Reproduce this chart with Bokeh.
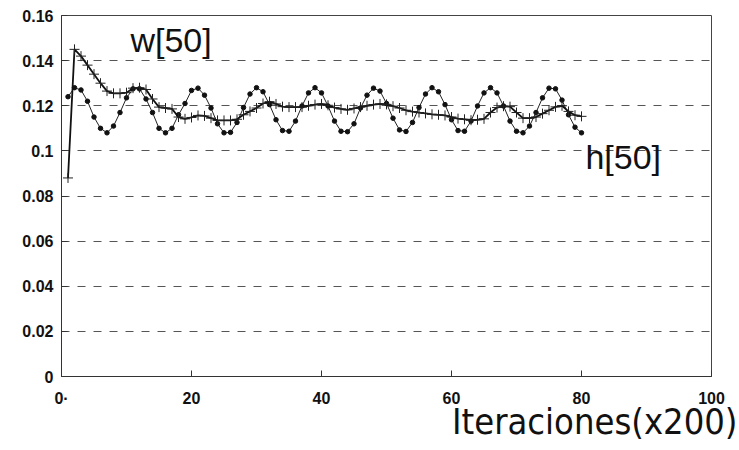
from bokeh.plotting import figure
from bokeh.models import FixedTicker, Label, Range1d, Title
from bokeh.embed import file_html
from bokeh.resources import INLINE

# --- data ---
iter_x = list(range(1, 81))

h50 = [0.124, 0.128, 0.127, 0.122, 0.115, 0.110, 0.108, 0.111, 0.117, 0.1235,
       0.1275, 0.1275, 0.123, 0.117, 0.110, 0.108, 0.110, 0.116, 0.121, 0.1268,
       0.1278, 0.1247, 0.119, 0.112, 0.108, 0.1082, 0.1126, 0.1192, 0.1252, 0.128,
       0.1262, 0.1205, 0.1138, 0.109, 0.1087, 0.1132, 0.1199, 0.1257, 0.128, 0.1257,
       0.1199, 0.1132, 0.1087, 0.1085, 0.112, 0.119, 0.1247, 0.1278, 0.1265, 0.121,
       0.1145, 0.1093, 0.1086, 0.1126, 0.1192, 0.1252, 0.128, 0.1262, 0.1205, 0.1138,
       0.109, 0.1087, 0.1132, 0.1199, 0.1257, 0.128, 0.1257, 0.1199, 0.1132, 0.1087,
       0.108, 0.111, 0.117, 0.1235, 0.1278, 0.1275, 0.1225, 0.116, 0.1105, 0.108]

w50 = [0.088, 0.145, 0.142, 0.138, 0.134, 0.130, 0.1265, 0.1255, 0.1255, 0.1258,
       0.1278, 0.128, 0.1272, 0.123, 0.1194, 0.119, 0.1186, 0.115, 0.1142, 0.1148,
       0.1157, 0.1155, 0.1145, 0.1135, 0.1135, 0.1135, 0.114, 0.116, 0.1175, 0.119,
       0.121, 0.1218, 0.1208, 0.1196, 0.1194, 0.1194, 0.1194, 0.120, 0.1205, 0.1208,
       0.1202, 0.1192, 0.1186, 0.1182, 0.1188, 0.1194, 0.120, 0.1205, 0.1208, 0.1206,
       0.1198, 0.119, 0.118, 0.1174, 0.117, 0.1166, 0.1162, 0.116, 0.1157, 0.115,
       0.1143, 0.114, 0.1136, 0.1138, 0.1142, 0.117, 0.1192, 0.1198, 0.1196, 0.117,
       0.1145, 0.1145, 0.115, 0.1165, 0.118, 0.1195, 0.120, 0.1175, 0.1158, 0.1153]

x_ticks = [0, 20, 40, 60, 80, 100]
x_tick_labels = ["0·", "20", "40", "60", "80", "100"]
y_ticks = [0, 0.02, 0.04, 0.06, 0.08, 0.1, 0.12, 0.14, 0.16]
y_tick_labels = ["0", "0.02", "0.04", "0.06", "0.08", "0.1", "0.12", "0.14", "0.16"]
grid_levels = [0.02, 0.04, 0.06, 0.08, 0.1, 0.12, 0.14]

x_title = "Iteraciones(x200)"
w_name = "w[50]"
h_name = "h[50]"

FONT = "'Liberation Sans', Arial, Helvetica, sans-serif"
NARROW = "'Liberation Sans Narrow', 'DejaVu Sans Condensed', Roboto, sans-serif"

p = figure(width=739, height=450, output_backend="svg", toolbar_location=None,
           x_range=Range1d(0, 100), y_range=Range1d(0, 0.16),
           min_border_left=61, min_border_right=28, min_border_top=15, min_border_bottom=74)
p.background_fill_color = "white"
p.border_fill_color = "white"
p.outline_line_color = "#444444"
p.outline_line_width = 1

p.xgrid.visible = False
p.ygrid.ticker = FixedTicker(ticks=grid_levels)
p.ygrid.grid_line_color = "#555555"
p.ygrid.grid_line_dash = "8 8"
p.ygrid.grid_line_width = 1

for ax in (p.xaxis[0], p.yaxis[0]):
    ax.axis_line_color = "#333333"
    ax.major_tick_line_color = "#333333"
    ax.major_tick_in = 6
    ax.major_tick_out = 0
    ax.minor_tick_line_color = None
    ax.major_label_text_font = FONT
    ax.major_label_text_font_style = "bold"
    ax.major_label_text_font_size = "16px"
    ax.major_label_text_color = "#111111"

p.xaxis.ticker = FixedTicker(ticks=x_ticks)
p.xaxis.major_label_overrides = {t: s for t, s in zip(x_ticks, x_tick_labels)}
p.xaxis.major_label_standoff = 13
p.yaxis.ticker = FixedTicker(ticks=y_ticks)
p.yaxis.major_label_overrides = {t: s for t, s in zip(y_ticks, y_tick_labels)}
p.yaxis.major_label_standoff = 8

# h[50]: thin line with filled dots
p.line(iter_x, h50, line_color="#222222", line_width=1)
p.scatter(iter_x, h50, marker="circle", size=4.5, fill_color="#111111", line_color="#111111")

# w[50]: heavier line with crosses
p.line(iter_x, w50, line_color="#111111", line_width=1.8)
p.scatter(iter_x, w50, marker="cross", size=10, line_color="#222222", line_width=1)

p.add_layout(Label(x=10.6, y=0.1492, text=w_name, text_align="left", text_baseline="middle",
                   text_font=FONT, text_font_size="34px", text_color="#111111"))
p.add_layout(Label(x=80.6, y=0.0972, text=h_name, text_align="left", text_baseline="middle",
                   text_font=FONT, text_font_size="34px", text_color="#111111"))

xt = Title(text=x_title, align="right", vertical_align="middle", offset=-26, standoff=-19,
           text_font=NARROW, text_font_size="36px", text_font_style="normal",
           text_color="#111111")
p.add_layout(xt, "below")

open("out.html", "w").write(file_html(p, INLINE))
